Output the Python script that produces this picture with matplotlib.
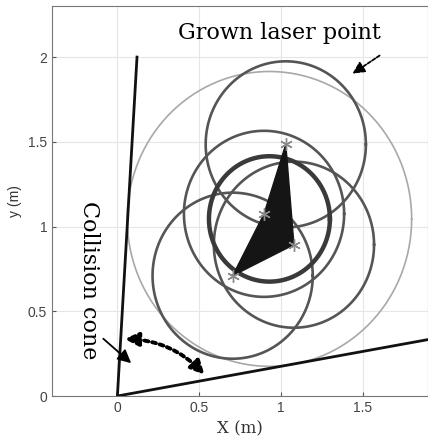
import numpy as np
import matplotlib
matplotlib.use('Agg')
from matplotlib import pyplot as plt
from matplotlib.patches import FancyArrowPatch, Polygon

# laser points (vertices of obstacle)
px = [1.03, 1.08, 0.705, 0.897]
py = [1.485, 0.893, 0.71, 1.075]
r_grow = 0.49

# enclosing circles around centroid
cx, cy = 0.93, 1.045
r_inner = 0.37
r_outer = 0.87

# collision cone edges (end points from origin)
cone_x = [0.12, 0.0, 1.9]
cone_y = [2.0, 0.0, 0.333]

xticks = [0, 0.5, 1, 1.5]
yticks = [0, 0.5, 1, 1.5, 2]

serif = 'DejaVu Serif'
sans = 'Liberation Sans'

fig = plt.figure(figsize=(4.28, 4.36), dpi=100)
ax = fig.add_axes([0.1215, 0.0917, 0.8785, 0.894])

t = np.linspace(0, 2*np.pi, 400)

# grown laser point circles
for x0, y0 in zip(px, py):
    ax.plot(x0 + r_grow*np.cos(t), y0 + r_grow*np.sin(t), color='#555555', lw=1.9, zorder=3)

ax.plot(cx + r_outer*np.cos(t), cy + r_outer*np.sin(t), color='#a8a8a8', lw=1.2, zorder=2)
ax.plot(cx + r_inner*np.cos(t), cy + r_inner*np.sin(t), color='#3a3a3a', lw=3.2, zorder=3)

ax.add_patch(Polygon(np.column_stack([px, py]), closed=True, fc='#151515', ec='#151515', zorder=4))
ax.plot(px, py, ls='none', marker=(6, 2, 0), ms=9, mew=1.0, color='#8a8a8a', zorder=5)

# collision cone
ax.plot(cone_x, cone_y, color='#111111', lw=2.0, zorder=3)

# annotations
ax.text(0.99, 2.107, 'Grown laser point', fontsize=16, family=serif, ha='center', va='baseline')
ax.add_patch(FancyArrowPatch((1.618, 2.018), (1.424, 1.893), arrowstyle='-|>', mutation_scale=18,
                             ls=(0, (2, 1)), lw=1.3, color='black', zorder=6))

ax.text(-0.176, 0.686, 'Collision cone', fontsize=16, family=serif, rotation=270,
        ha='center', va='center', rotation_mode='anchor')
ax.add_patch(FancyArrowPatch((-0.099, 0.349), (0.097, 0.183), arrowstyle='-|>', mutation_scale=20,
                             lw=1.3, color='black', zorder=6))
ax.add_patch(FancyArrowPatch((0.028, 0.337), (0.544, 0.114), arrowstyle='<|-|>', mutation_scale=20,
                             connectionstyle='arc3,rad=-0.22', ls=(0, (1, 1)), lw=2.8,
                             color='black', zorder=6))

ax.set_xlim(-0.4, 1.9)
ax.set_ylim(0, 2.3)
ax.set_xticks(xticks)
ax.set_xticklabels(['0', '0.5', '1', '1.5'], family=sans)
ax.set_yticks(yticks)
ax.set_yticklabels(['0', '0.5', '1', '1.5', '2'], family=sans)
ax.grid(True, color='#e6e6e6', lw=0.8)
ax.set_axisbelow(True)
ax.tick_params(direction='in', length=3, colors='#555555', labelsize=10, labelcolor='#444444')
for s in ax.spines.values():
    s.set_color('#777777')
ax.set_xlabel('X (m)', family=serif, fontsize=12, color='#333333')
ax.set_ylabel('y (m)', family=sans, fontsize=10, color='#333333')

fig.savefig('out.png', dpi=100)
